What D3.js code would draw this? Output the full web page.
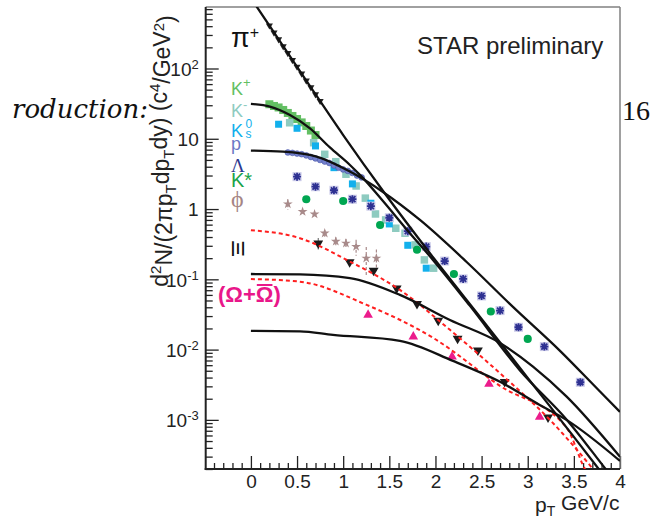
<!DOCTYPE html>
<html>
<head>
<meta charset="utf-8">
<script src="https://cdn.jsdelivr.net/npm/d3@7/dist/d3.min.js"></script>
<style>
  body { margin: 0; background: #fff; }
  svg { display: block; }
</style>
</head>
<body>
<svg id="chart" width="660" height="523"></svg>
<script>
// ---------- axis ranges and tick labels ----------
const xDomain = [-0.49, 4];
const yDomain = [2e-4, 750];
const xTicks = [0, 0.5, 1, 1.5, 2, 2.5, 3, 3.5, 4];
const xTickLabels = ["0", "0.5", "1", "1.5", "2", "2.5", "3", "3.5", "4"];
const yTicks = [1e-3, 1e-2, 1e-1, 1, 10, 100];
const yTickLabels = ["10^-3", "10^-2", "10^-1", "1", "10", "10^2"];

// ---------- measured spectra (pT in GeV/c, yield) ----------
const piPt  = [0.20, 0.25, 0.30, 0.35, 0.40, 0.45, 0.50, 0.55, 0.60, 0.65, 0.70, 0.75];
const piVal = [409, 325, 260, 207, 166, 132, 106, 84.5, 67.3, 53.8, 42.9, 34.5];

const kPlusPt  = [0.20, 0.25, 0.30, 0.35, 0.40, 0.45, 0.50, 0.55, 0.60, 0.65, 0.70];
const kPlusVal = [31, 29.3, 27.9, 25.7, 23.3, 21.1, 19.1, 17.1, 15.2, 13.1, 11.3];

const kMinusPt  = [0.42, 0.68, 0.80, 0.92, 1.03, 1.14, 1.24, 1.35, 1.46, 1.57, 1.67, 1.78, 1.88, 1.98];
const kMinusVal = [16.9, 8.79, 6.01, 4.72, 3.13, 2.13, 1.43, 0.851, 0.700, 0.533, 0.453, 0.309, 0.189, 0.144];

const k0sPt  = [0.30, 0.50, 0.70, 0.90, 1.10, 1.30, 1.50, 1.70, 1.90];
const k0sVal = [16.1, 14.1, 7.91, 3.88, 2.28, 1.21, 0.614, 0.305, 0.144];

const protonPt  = [0.40, 0.45, 0.50, 0.55, 0.60, 0.65, 0.70, 0.75, 0.80, 0.85, 0.90, 0.95, 1.00, 1.05, 1.10, 1.15, 1.20];
const protonVal = [6.38, 6.3, 6.16, 6.03, 5.8, 5.5, 5.25, 4.99, 4.74, 4.52, 4.17, 3.87, 3.66, 3.49, 3.26, 3.0, 2.82];

const lambdaPt  = [0.50, 0.70, 0.90, 1.10, 1.30, 1.50, 1.70, 1.90, 2.10, 2.30, 2.50, 2.70, 2.90, 3.18, 3.57];
const lambdaVal = [2.89, 2.08, 1.85, 1.38, 1.10, 0.752, 0.485, 0.292, 0.182, 0.1014, 0.058, 0.0359, 0.0208, 0.01104, 0.00343];

const kStarPt  = [0.60, 1.00, 1.40, 1.80, 2.20, 2.60, 3.00];
const kStarVal = [1.38, 1.30, 0.594, 0.264, 0.119, 0.0348, 0.0142];

const phiPt  = [0.40, 0.56, 0.69, 0.80, 0.92, 1.03, 1.14, 1.25, 1.36];
const phiVal = [1.18, 0.918, 0.846, 0.453, 0.346, 0.326, 0.292, 0.1995, 0.1995];
const phiErr = [0.2, 0.05, 0.05, 0.05, 0.05, 0.05, 0.075, 0.09, 0.067];

const xiPt  = [0.73, 1.07, 1.33, 1.58, 1.80, 2.03, 2.24, 2.46, 2.75, 3.22];
const xiVal = [0.326, 0.1766, 0.133, 0.0746, 0.0447, 0.0258, 0.01435, 0.0098, 0.00348, 0.001086];
const xiErr = [0.06, 0, 0, 0, 0, 0, 0, 0, 0, 0];

const omegaPt  = [1.27, 1.76, 2.18, 2.58, 3.13];
const omegaVal = [0.0312, 0.0153, 0.00794, 0.00323, 0.001104];

// ---------- fitted curves [pT, yield] ----------
const pionFit   = [[0, 1006], [0.6, 67.3], [1.0, 11.3], [1.44, 1.75], [1.98, 0.201], [2.5, 0.0274], [3.0, 0.00395], [3.5, 5.73e-4], [3.9, 1.2e-4]];
const kaonFit   = [[0, 31.3], [0.206, 28.7], [0.423, 21.8], [0.64, 14.1], [0.856, 7.52], [1.073, 4.24], [1.203, 2.87], [1.431, 1.30], [1.702, 0.488], [1.973, 0.189], [2.374, 0.0419], [2.916, 0.00506], [3.425, 0.001], [3.848, 1.97e-4], [4.0, 1.1e-4]];
const protonFit = [[0, 6.78], [0.347, 6.56], [0.712, 5.56], [1.073, 3.41], [1.431, 1.75], [1.832, 0.700], [2.338, 0.1766], [2.84, 0.0405], [3.35, 0.0096], [3.783, 0.00253], [4.0, 0.0013]];
const xiFit     = [[0, 0.119], [0.531, 0.1175], [1.073, 0.104], [1.615, 0.060], [2.157, 0.0264], [2.699, 0.01245], [3.057, 0.00573], [3.422, 0.00214], [4.0, 2.98e-4]];
const omegaFit  = [[0, 0.01845], [0.531, 0.0182], [0.889, 0.0162], [1.615, 0.0133], [2.19, 0.0069], [2.70, 0.00348], [3.13, 0.00163], [3.42, 0.001], [4.0, 2.61e-4]];
const xiFitAlt    = [[0, 0.50], [0.531, 0.385], [1.073, 0.179], [1.615, 0.0706], [2.157, 0.0191], [2.699, 0.00461], [3.241, 0.001], [3.707, 2.0e-4], [3.89, 1.0e-4]];
const omegaFitAlt = [[0, 0.101], [0.531, 0.0927], [1.254, 0.0433], [1.976, 0.01465], [2.699, 0.00305], [3.422, 7.7e-4], [3.62, 2.0e-4], [3.78, 1.0e-4]];

// ---------- layout ----------
const svg = d3.select("#chart");
const plot = { left: 205.7, right: 620, top: 7, bottom: 469 };
const x = d3.scaleLinear().domain(xDomain).range([plot.left, plot.right]);
const y = d3.scaleLog().domain(yDomain).range([plot.bottom, plot.top]);
const sans = "'Liberation Sans', Arial, Helvetica, sans-serif";
const serif = "'Liberation Serif', 'Times New Roman', serif";

svg.append("defs").append("clipPath").attr("id", "plotClip")
  .append("rect")
  .attr("x", plot.left).attr("y", plot.top)
  .attr("width", plot.right - plot.left).attr("height", plot.bottom - plot.top);

// ---------- axes ----------
const yMinor = [];
for (let e = -4; e <= 2; e++) {
  for (let k = 2; k <= 9; k++) {
    const v = k * Math.pow(10, e);
    if (v >= yDomain[0] && v <= yDomain[1]) yMinor.push(v);
  }
}
const xMinor = d3.range(-4, 40).map(i => i / 10).filter(v => v >= xDomain[0] && Math.abs(v * 2 - Math.round(v * 2)) > 1e-6);

function styleTicks(g) {
  g.select(".domain").remove();
  g.selectAll(".tick line").attr("stroke", "#222").attr("stroke-width", 1.3);
}

svg.append("g").attr("transform", `translate(${plot.left},0)`)
  .call(d3.axisLeft(y).tickValues(yMinor).tickSize(-7).tickFormat(""))
  .call(styleTicks);

const gy = svg.append("g").attr("transform", `translate(${plot.left},0)`)
  .call(d3.axisLeft(y).tickValues(yTicks).tickSize(-13).tickPadding(7).tickFormat(""))
  .call(styleTicks);
gy.selectAll(".tick text").each(function (d, i) {
  const parts = yTickLabels[i].split("^");
  const t = d3.select(this)
    .attr("font-family", sans).attr("font-size", 19).attr("fill", "#222")
    .attr("dy", "0.36em").text(parts[0]);
  if (parts[1]) {
    t.append("tspan").attr("dy", "-0.55em").attr("font-size", 13).text(parts[1]);
  }
});

svg.append("g").attr("transform", `translate(0,${plot.bottom})`)
  .call(d3.axisBottom(x).tickValues(xMinor).tickSize(-6).tickFormat(""))
  .call(styleTicks);

svg.append("g").attr("transform", `translate(0,${plot.bottom})`)
  .call(d3.axisBottom(x).tickValues(xTicks).tickSize(-13).tickPadding(6).tickFormat((d, i) => xTickLabels[i]))
  .call(styleTicks)
  .selectAll(".tick text")
  .attr("font-family", sans).attr("font-size", 19).attr("fill", "#222");

// frame
svg.append("line").attr("x1", plot.left).attr("x2", plot.right).attr("y1", plot.top).attr("y2", plot.top)
  .attr("stroke", "#808080").attr("stroke-width", 1.5);
svg.append("line").attr("x1", plot.right).attr("x2", plot.right).attr("y1", plot.top).attr("y2", plot.bottom)
  .attr("stroke", "#808080").attr("stroke-width", 1.5);
svg.append("line").attr("x1", plot.left).attr("x2", plot.left).attr("y1", plot.top).attr("y2", plot.bottom + 1)
  .attr("stroke", "#222").attr("stroke-width", 2);
svg.append("line").attr("x1", plot.left - 1).attr("x2", plot.right).attr("y1", plot.bottom).attr("y2", plot.bottom)
  .attr("stroke", "#222").attr("stroke-width", 2);

// ---------- data markers ----------
const marks = svg.append("g").attr("clip-path", "url(#plotClip)");
const zip = (a, b) => a.map((v, i) => [v, b[i]]);

function squares(pts, vals, color, size) {
  marks.append("g").selectAll("rect").data(zip(pts, vals)).join("rect")
    .attr("x", d => x(d[0]) - size / 2).attr("y", d => y(d[1]) - size / 2)
    .attr("width", size).attr("height", size).attr("fill", color);
}
function symbols(pts, vals, type, size, fill, stroke, rotate) {
  marks.append("g").selectAll("path").data(zip(pts, vals)).join("path")
    .attr("d", d3.symbol().type(type).size(size))
    .attr("transform", d => `translate(${x(d[0])},${y(d[1])}) rotate(${rotate || 0})`)
    .attr("fill", fill).attr("stroke", stroke || "none").attr("stroke-width", 0.6);
}
function errorBars(pts, vals, errs, color) {
  marks.append("g").selectAll("line").data(pts.map((p, i) => [p, vals[i], errs[i]]).filter(d => d[2] > 0)).join("line")
    .attr("x1", d => x(d[0])).attr("x2", d => x(d[0]))
    .attr("y1", d => y(d[1] + d[2])).attr("y2", d => y(Math.max(d[1] - d[2], 1e-5)))
    .attr("stroke", color).attr("stroke-width", 1.2).attr("stroke-dasharray", "3,2");
}

squares(kPlusPt, kPlusVal, "#63bf63", 8);
squares(kMinusPt, kMinusVal, "#8ecbc0", 7.5);
squares(k0sPt, k0sVal, "#12b0ec", 7);
symbols(protonPt, protonVal, d3.symbolCircle, 26, "#7380cc", "#4a55a8");

// Lambda: asterisk over a pale square
const lam = marks.append("g").selectAll("g").data(zip(lambdaPt, lambdaVal)).join("g")
  .attr("transform", d => `translate(${x(d[0])},${y(d[1])})`);
lam.append("rect").attr("x", -4.5).attr("y", -4.5).attr("width", 9).attr("height", 9).attr("fill", "#c9c9e8");
lam.append("path").attr("d", "M-4,0H4M0,-4V4M-3,-3L3,3M-3,3L3,-3")
  .attr("stroke", "#2e3192").attr("stroke-width", 1.8);

symbols(kStarPt, kStarVal, d3.symbolCircle, 52, "#00a651");

errorBars(phiPt, phiVal, phiErr, "#a88a8a");
symbols(phiPt, phiVal, d3.symbolStar, 30, "#a88a8a");

errorBars(xiPt, xiVal, xiErr, "#777");
symbols(xiPt, xiVal, d3.symbolTriangle, 42, "#1a1a1a", null, 180);
symbols(omegaPt, omegaVal, d3.symbolTriangle, 40, "#ec1c8c");
symbols(piPt, piVal, d3.symbolTriangle, 22, "#222", null, 180);

// ---------- fitted curves ----------
const line = d3.line().x(d => x(d[0])).y(d => y(d[1])).curve(d3.curveMonotoneX);
const curves = marks.append("g").attr("fill", "none");
[xiFitAlt, omegaFitAlt].forEach(c => {
  curves.append("path").attr("d", line(c)).attr("stroke", "#ff1f1f")
    .attr("stroke-width", 2).attr("stroke-dasharray", "4,3");
});
[pionFit, kaonFit, protonFit, xiFit, omegaFit].forEach(c => {
  curves.append("path").attr("d", line(c)).attr("stroke", "#111").attr("stroke-width", 2.3);
});

// ---------- species labels ----------
function label(xp, yp, parts, color, size, family, weight) {
  const t = svg.append("text").attr("x", xp).attr("y", yp)
    .attr("fill", color).attr("font-size", size).attr("font-family", family || sans)
    .attr("font-weight", weight || "normal");
  parts.forEach(p => {
    const s = t.append("tspan").text(p.t);
    if (p.dy) s.attr("dy", p.dy);
    if (p.fs) s.attr("font-size", p.fs);
    if (p.dx) s.attr("dx", p.dx);
  });
  return t;
}

label(231, 47, [{ t: "π" }, { t: "+", dy: "-0.55em", fs: 16 }], "#111", 27);
label(231, 95, [{ t: "K" }, { t: "+", dy: "-0.6em", fs: 13 }], "#63bf63", 18);
label(231, 116.7, [{ t: "K" }, { t: "-", dy: "-0.6em", fs: 13 }], "#8ecbc0", 18);
label(231, 136.5, [{ t: "K" }], "#12b0ec", 18);
label(245.5, 127.5, [{ t: "0" }], "#12b0ec", 12);
label(245.5, 137.5, [{ t: "s" }], "#12b0ec", 12);
label(231, 149.5, [{ t: "p" }], "#6a78c6", 18);
label(231, 171.5, [{ t: "Λ" }], "#2b3990", 19, serif);
label(231, 187, [{ t: "K*" }], "#1aa34a", 20);
label(231, 207, [{ t: "ϕ" }], "#a58585", 24, serif);
svg.append("text").attr("transform", "translate(237.5,248.5) rotate(90) scale(1.3,0.8)")
  .attr("text-anchor", "middle").attr("dominant-baseline", "central")
  .attr("font-family", sans).attr("font-weight", "bold").attr("font-size", 20).attr("fill", "#111").text("Ξ");

const om = label(218, 302, [{ t: "(Ω+Ω)" }], "#e9178a", 22, sans, "bold");
const ext = om.node().getExtentOfChar(3);
svg.append("line").attr("x1", ext.x + 1).attr("x2", ext.x + ext.width - 1)
  .attr("y1", 285).attr("y2", 285).attr("stroke", "#e9178a").attr("stroke-width", 2);

// ---------- titles ----------
svg.append("text").attr("x", 417).attr("y", 53.5)
  .attr("font-family", sans).attr("font-size", 24).attr("fill", "#222").text("STAR preliminary");

label(535, 512, [{ t: "p" }, { t: "T", dy: "0.3em", fs: 14 }, { t: " GeV/c", dy: "-0.3em" }], "#222", 21);

const yl = svg.append("text").attr("transform", "translate(168,151) rotate(-90)")
  .attr("text-anchor", "middle").attr("font-family", sans).attr("font-size", 23).attr("fill", "#222");
[["d"], ["2", "sup"], ["N/(2πp"], ["T", "sub"], ["dp"], ["T", "sub"], ["dy) (c"], ["4", "sup"], ["/GeV"], ["2", "sup"], [")"]]
  .forEach(([t, k], i, arr) => {
    const s = yl.append("tspan").text(t);
    const prev = i > 0 ? arr[i - 1][1] : null;
    let dy = 0;
    if (prev === "sup") dy += 0.45;
    if (prev === "sub") dy -= 0.3;
    if (k === "sup") { dy -= 0.45; s.attr("font-size", 15); }
    if (k === "sub") { dy += 0.3; s.attr("font-size", 15); }
    if (dy) s.attr("dy", dy + "em");
  });

// running text around the figure
svg.append("text").attr("x", 12).attr("y", 118)
  .attr("font-family", "'DejaVu Serif', serif").attr("font-style", "italic").attr("font-size", 26)
  .attr("fill", "#111").text("roduction:");
svg.append("text").attr("x", 622).attr("y", 120)
  .attr("font-family", serif).attr("font-size", 28).attr("fill", "#111").text("16");
</script>
</body>
</html>
